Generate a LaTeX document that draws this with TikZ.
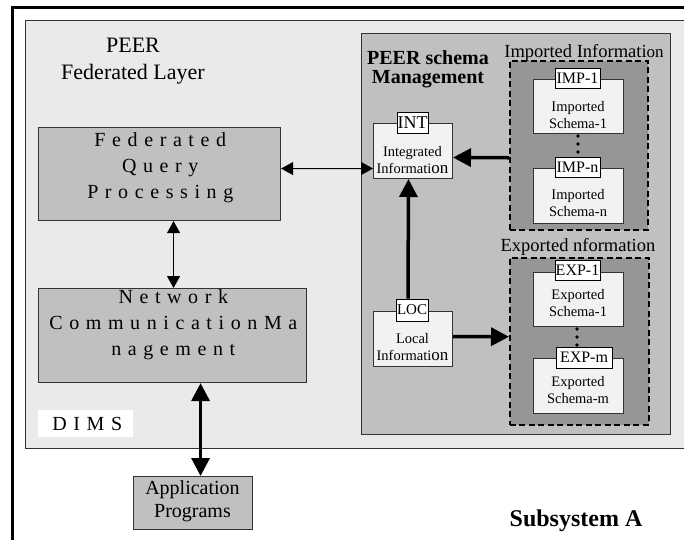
\documentclass[tikz,border=0pt]{standalone}
\usepackage{fontspec}
\setmainfont{Liberation Serif}
\newfontfamily\spc[LetterSpace=33]{Liberation Serif}
\usetikzlibrary{arrows.meta}
\tikzset{
  x=1pt, y=-1pt,
  plainbox/.style={draw=black!80, line width=1.1pt, anchor=north west, inner sep=0pt},
  lightbox/.style={plainbox, fill=lightbg},
  midbox/.style={plainbox, fill=midgray},
  darkbox/.style={plainbox, fill=darkgray, draw=black, line width=1.5pt, dash pattern=on 6pt off 3.5pt},
  schemabox/.style={plainbox, fill=paleweiss, line width=1pt},
  tagbox/.style={draw=black, line width=1pt, fill=white, inner sep=0pt, font=\fontsize{16}{16}\selectfont},
  smalltxt/.style={align=center, font=\fontsize{14.5}{17}\selectfont},
  spacedtxt/.style={align=center, font=\spc\fontsize{20}{26}\selectfont},
  thinarrow/.style={line width=1pt, {Triangle[length=12pt,width=13pt]}-{Triangle[length=12pt,width=13pt]}},
  bigarrow/.style={line width=3.5pt, -{Triangle[length=18pt,width=18pt]}},
  bigdouble/.style={line width=3.5pt, {Triangle[length=18pt,width=18pt]}-{Triangle[length=18pt,width=18pt]}},
  dot/.style={circle, fill=black, inner sep=0pt, minimum size=3.6pt}
}
\definecolor{lightbg}{gray}{0.918}
\definecolor{midgray}{gray}{0.753}
\definecolor{darkgray}{gray}{0.59}
\definecolor{paleweiss}{gray}{0.95}
\newcommand{\onbig}{{\fontsize{17}{17}\selectfont on}}
% letter-spaced line without the trailing gap
\newcommand{\sline}[1]{#1\kern-0.33em}
\begin{document}
\begin{tikzpicture}
\useasboundingbox (0,0) rectangle (684,539);
\clip (0,0) rectangle (684,539);

% outer frame (top and left edges)
\draw[line width=3pt] (690,7) -- (12,7) -- (12,545);

% DIMS layer
\node[lightbox, minimum width=670pt, minimum height=428pt] (dims) at (25,20) {};
\node[align=center, font=\fontsize{22}{27}\selectfont] (peer) at (133,61) {PEER\\Federated Layer};

% schema management area
\node[midbox, minimum width=309pt, minimum height=401pt] (mgmt) at (361,33) {};
\node[align=center, font=\bfseries\fontsize{20}{19}\selectfont] (mgmtlabel) at (428,69) {PEER schema\\Management};

% imported information
\node[font=\fontsize{18.5}{18.5}\selectfont] (implabel) at (584,53) {Imported Informati\onbig};
\node[darkbox, minimum width=138pt, minimum height=169pt] (imp) at (509,60) {};
\node[schemabox, minimum width=90pt, minimum height=54pt] (imp1) at (533,79) {};
\node[smalltxt] (imp1txt) at (578,115) {Imported\\Schema-1};
\node[schemabox, minimum width=90pt, minimum height=55pt] (impn) at (533,168) {};
\node[smalltxt] (impntxt) at (578,203) {Imported\\Schema-n};
\node[tagbox, minimum width=45pt, minimum height=20pt] (imp1tag) at (577.5,78) {IMP-1};
\node[tagbox, minimum width=45pt, minimum height=20pt] (impntag) at (577.5,167) {IMP-n};
\node[dot] (id1) at (578,136) {};
\node[dot] (id2) at (578,144) {};
\node[dot] (id3) at (578,152) {};

% exported information
\node[font=\fontsize{18.5}{18.5}\selectfont] (explabel) at (578,247) {Exported nformation};
\node[darkbox, minimum width=139pt, minimum height=167pt] (exp) at (509,257) {};
\node[schemabox, minimum width=90pt, minimum height=54pt] (exp1) at (533,272) {};
\node[smalltxt] (exp1txt) at (578,303) {Exported\\Schema-1};
\node[schemabox, minimum width=90pt, minimum height=55pt] (expm) at (533,358) {};
\node[smalltxt] (expmtxt) at (578,390) {Exported\\Schema-m};
\node[tagbox, minimum width=45pt, minimum height=20pt] (exp1tag) at (577.5,270) {EXP-1};
\node[tagbox, minimum width=56pt, minimum height=21pt] (expmtag) at (584,357.5) {EXP-m};
\node[dot] (ed1) at (577,329) {};
\node[dot] (ed2) at (577,337) {};
\node[dot] (ed3) at (577,345) {};

% integrated and local information
\node[schemabox, minimum width=79pt, minimum height=55pt] (int) at (373,123) {};
\node[smalltxt] (inttxt) at (412.5,160) {Integrated\\Informati\onbig};
\node[tagbox, minimum width=31pt, minimum height=21pt, font=\fontsize{18}{18}\selectfont] (inttag) at (412.5,122.5) {INT};
\node[schemabox, minimum width=79pt, minimum height=55pt] (loc) at (373,311) {};
\node[smalltxt] (loctxt) at (412.5,347) {Local\\Informati\onbig};
\node[tagbox, minimum width=32pt, minimum height=22pt, font=\fontsize{15}{15}\selectfont] (loctag) at (412,310) {LOC};

% federated layer boxes
\node[midbox, minimum width=242pt, minimum height=93pt] (fqp) at (38,127) {};
\node[spacedtxt] (fqptxt) at (157,168) {\sline{Federated}\\\sline{Query}\\\sline{Processing}};
\node[midbox, minimum width=268pt, minimum height=94pt] (ncm) at (38,288) {};
\node[spacedtxt] (ncmtxt) at (170,325) {\sline{Network}\\\sline{CommunicationMa}\\\sline{nagement}};
\node[anchor=north west, fill=white, minimum width=95pt, minimum height=27pt, inner sep=0pt] (dimsbg) at (38,410) {};
\node[font=\spc\fontsize{20}{20}\selectfont] (dimstxt) at (84,423.5) {\sline{DIMS}};

% application programs
\node[midbox, minimum width=119pt, minimum height=53pt] (app) at (133,476) {};
\node[align=center, font=\fontsize{20}{23}\selectfont] (apptxt) at (192.5,501.5) {Application\\Programs};

\node[font=\bfseries\fontsize{24}{24}\selectfont] (subsys) at (576,521) {Subsystem A};

% connectors
\draw[thinarrow] ([yshift=5.5pt]fqp.east) -- ([yshift=-17.5pt]int.west);
\draw[thinarrow] ([xshift=14pt]fqp.south) -- ([xshift=1pt]ncm.north);
\draw[bigdouble] ([xshift=28pt]ncm.south) -- ([xshift=7.5pt]app.north);
\draw[bigarrow] ([yshift=-12.5pt]imp.west) -- ([yshift=-6.5pt]int.east);
\draw[bigarrow] ([xshift=-4pt]loctag.north) -- ([xshift=-4.5pt]int.south);
\draw[bigarrow] ([yshift=2.5pt]loc.east) -- ([yshift=4.5pt]exp.west);
\end{tikzpicture}
\end{document}
